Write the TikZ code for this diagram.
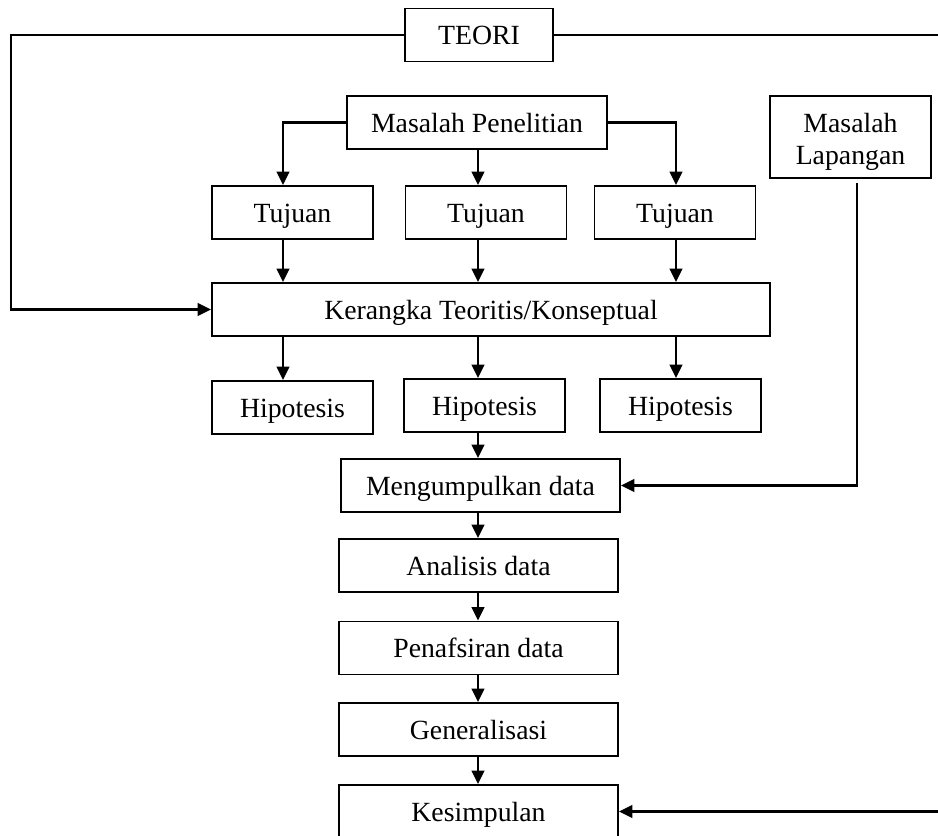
\documentclass[tikz,border=0pt]{standalone}
\usepackage{fontspec}
\setmainfont{Liberation Serif}
\usetikzlibrary{arrows.meta}
\tikzset{
    kotak/.style={draw,line width=1.1pt,minimum height=1.06cm,inner sep=0pt,
        text height=0.72cm,text depth=0.34cm,font=\fontsize{15.8}{18.7}\selectfont},
    panah/.style={->,line width=1.5pt},
}

\begin{document}
\begin{tikzpicture}[x=0.02cm,y=-0.02cm,>={Triangle[length=0.27cm,width=0.25cm]}]
    \useasboundingbox (0,0) rectangle (938,836);
    % kolom panah
    \coordinate (k1) at (283,0);
    \coordinate (k2) at (478,0);
    \coordinate (k3) at (676,0);
    \coordinate (k4) at (857,0);
    \coordinate (kiri) at (11,36);
    \coordinate (kanan) at (944,36);
    % kotak atas
    \node[kotak,minimum width=2.96cm] (teori) at (479,35) {TEORI};
    \node[kotak,minimum width=5.2cm] (maspen) at (477,122.5) {Masalah Penelitian};
    \node[kotak,text height=,text depth=,align=center,minimum width=3.22cm,minimum height=1.64cm]
        (maslap) at (850.5,137) {\rule{0pt}{0.58cm}Masalah\\Lapangan};
    \foreach \i/\x in {1/292.5,2/486,3/675}
        \node[kotak,minimum width=3.22cm] (tuj\i) at (\x,212.5) {Tujuan};
    \node[kotak,minimum width=11.16cm] (ker) at (491,309.5) {Kerangka Teoritis/Konseptual};
    \node[kotak,minimum width=3.22cm] (hip1) at (292.5,407.5) {Hipotesis};
    \foreach \i/\x in {2/484.5,3/680.5}
        \node[kotak,minimum width=3.22cm] (hip\i) at (\x,405.5) {Hipotesis};
    % kotak bawah
    \node[kotak,minimum width=5.58cm] (kum) at (480.5,485.5) {Mengumpulkan data};
    \node[kotak,minimum width=5.58cm] (ana) at (478.5,565.5) {Analisis data};
    \node[kotak,minimum width=5.58cm] (taf) at (478.5,648) {Penafsiran data};
    \node[kotak,minimum width=5.58cm] (gen) at (478.5,729.5) {Generalisasi};
    \node[kotak,minimum width=5.58cm] (sim) at (478.5,811.5) {Kesimpulan};
    % panah
    \draw[panah] (maspen.west) -| (k1 |- tuj1.north);
    \draw[panah] (k2 |- maspen.south) -- (k2 |- tuj2.north);
    \draw[panah] (maspen.east) -| (k3 |- tuj3.north);
    \foreach \i in {1,2,3} {
        \draw[panah] (k\i |- tuj\i.south) -- (k\i |- ker.north);
        \draw[panah] (k\i |- ker.south) -- (k\i |- hip\i.north);
    }
    \foreach \a/\b in {hip2/kum,kum/ana,ana/taf,taf/gen,gen/sim}
        \draw[panah] (k2 |- \a.south) -- (k2 |- \b.north);
    \draw[panah] (teori.west) -- (teori.west -| kiri) |- (ker.west);
    \draw[panah] (teori.east) -- (teori.east -| kanan) |- (sim.east);
    \draw[panah,shorten <=0.08cm] (k4 |- maslap.south) |- (kum.east);
\end{tikzpicture}
\end{document}
